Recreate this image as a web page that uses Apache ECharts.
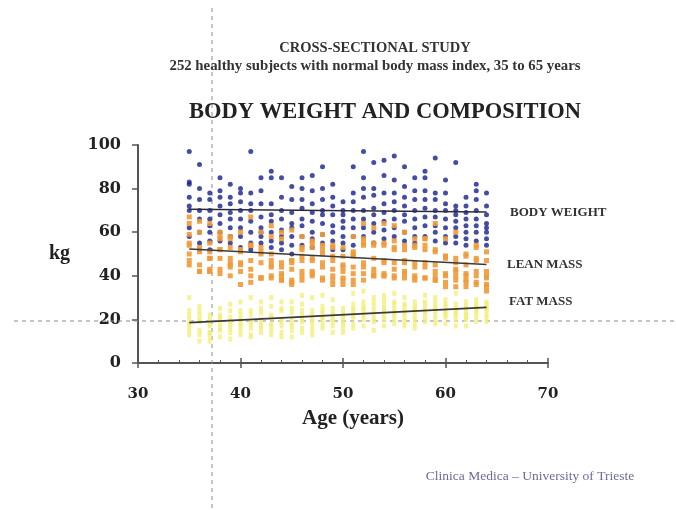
<!DOCTYPE html>
<html>
<head>
<meta charset="utf-8">
<script src="https://cdn.jsdelivr.net/npm/echarts@6/dist/echarts.min.js"></script>
<style>html,body{margin:0;padding:0;background:#fff}#c{width:676px;height:510px}</style>
</head>
<body>
<div id="c"></div>
<script>
// ages of the study columns
var ages = [35,36,37,38,39,40,41,42,43,44,45,46,47,48,49,50,51,52,53,54,55,56,57,58,59,60,61,62,63,64];
// body weight (kg) per age column
var bodyWeight = [
 [97,83,82,76,72,70,62,58],[91,80,75,70,66,60,55,52],[78,75,70,66,63,60,56,52],[85,79,76,72,68,64,60,56],
 [82,76,73,69,66,62,58,55],[80,78,74,70,66,62,58,53],[97,78,73,70,65,60,55,52],[85,79,73,67,62,60,58,55],
 [88,85,73,68,65,60,56,53],[85,76,70,66,61,58,55,52],[81,75,69,64,62,58,54,50],[85,80,75,71,66,63,58,54],
 [86,79,73,69,65,60,57,53],[90,80,75,70,68,64,59,55],[82,76,72,68,63,60,56,52],[74,70,68,65,62,58,55,52],
 [90,78,74,70,66,62,58,54],[97,85,80,76,70,66,62,58],[92,80,77,71,68,64,60,55],[93,86,78,73,69,65,61,57],
 [95,84,78,74,70,66,62,58],[90,81,76,72,68,65,60,56],[85,79,75,70,66,62,58,55],[88,85,79,75,71,67,63,58],
 [94,78,75,70,67,63,60,56],[84,78,73,70,66,62,58,55],[92,72,70,68,65,62,58,55],[76,72,69,66,63,60,57,54],
 [82,79,75,70,66,63,60,56],[78,72,68,64,62,60,57,54]
];
// lean mass (kg) per age column
var leanMass = [
 [67,59,64,54,55,50,47,45],[65,60,53,51,42,45,42,42],[64,55,48,48,51,43,42,42],[60,57,58,52,52,43,48,41],
 [58,57,46,53,45,48,40,44],[52,60,52,46,51,42,45,36],[67,54,54,54,43,47,37,40],[60,51,53,50,39,46,39,39],
 [58,63,47,50,44,45,39,40],[60,57,46,38,44,38,41,40],[61,47,46,47,37,43,36,38],[58,49,53,52,42,47,38,40],
 [56,55,53,47,48,41,42,40],[59,54,52,50,44,46,38,39],[53,54,47,49,40,43,36,38],[53,45,49,42,44,36,39,38],
 [58,51,50,49,41,44,36,38],[64,57,55,54,44,46,38,41],[62,54,55,43,48,40,41,40],[64,55,54,46,47,40,41,40],
 [63,56,53,52,43,46,39,40],[60,54,52,46,47,42,41,39],[57,54,53,44,46,38,40,39],[57,57,54,52,44,46,39,39],
 [64,52,51,42,45,38,40,38],[57,49,49,48,40,41,35,37],[60,48,43,46,40,42,35,38],[50,49,41,45,38,40,35,37],
 [53,54,48,47,40,42,36,37],[51,47,40,42,36,39,33,35]
];
// fat mass (kg) per age column
var fatMass = [
 [30,24,18,22,17,20,15,13],[26,20,22,19,24,15,13,10],[14,20,22,18,12,17,14,10],[25,22,18,20,16,21,12,15],
 [24,19,27,16,21,14,18,11],[28,18,22,24,15,20,13,17],[30,24,19,16,22,13,18,12],[25,28,20,17,23,14,19,16],
 [30,22,26,18,21,15,17,13],[25,19,24,28,17,20,14,12],[20,28,23,17,25,15,18,12],[27,31,22,19,24,16,20,14],
 [30,24,20,22,17,19,15,13],[31,26,23,20,24,18,21,16],[29,22,25,19,23,17,20,14],[21,25,19,23,18,22,16,14],
 [32,27,24,21,25,18,22,16],[33,28,25,22,26,20,24,17],[30,26,22,28,20,24,19,15],[29,31,24,27,22,25,20,17],
 [32,28,25,22,27,20,23,18],[30,27,24,26,21,23,19,17],[28,25,22,26,20,24,18,16],[31,28,25,23,27,21,24,19],
 [30,26,24,28,22,25,20,18],[27,29,24,22,26,21,23,18],[32,24,27,22,25,20,23,17],[26,23,28,21,25,20,22,17],
 [29,25,27,23,26,21,24,19],[27,25,28,22,26,21,24,19]
];
// regression lines [age, kg]
var trendWeight = [[35,70.5],[64,69.3]];
var trendLean = [[35,52.3],[64,45.2]];
var trendFat = [[35,18.5],[64,25.5]];
var xTicks = [30,40,50,60,70];
var yTicks = [0,20,40,60,80,100];

function pts(arr){
  var out = [];
  for (var i=0;i<ages.length;i++) for (var j=0;j<arr[i].length;j++) out.push([ages[i], arr[i][j]]);
  return out;
}

var serif = '"Liberation Serif","Times New Roman",serif';
var numFont = '"DejaVu Serif",serif';
var chart = echarts.init(document.getElementById('c'), null, {renderer:'canvas'});
chart.setOption({
  animation:false,
  backgroundColor:'#fff',
  grid:{left:138, right:128, top:145, bottom:147, containLabel:false},
  title:[
    {text:'CROSS-SECTIONAL STUDY', left:370, top:36, textAlign:'center',
     textStyle:{fontFamily:serif, fontSize:14.5, fontWeight:'bold', color:'#333'}},
    {text:'252 healthy subjects with normal body mass index, 35 to 65 years', left:370, top:54, textAlign:'center',
     textStyle:{fontFamily:serif, fontSize:14.8, fontWeight:'bold', color:'#333'}},
    {text:'BODY WEIGHT AND COMPOSITION', left:380, top:96, textAlign:'center',
     textStyle:{fontFamily:serif, fontSize:22.5, fontWeight:'bold', color:'#222'}},
    {text:'Clinica Medica \u2013 University of Trieste', left:525, top:464, textAlign:'center',
     textStyle:{fontFamily:serif, fontSize:13.5, fontWeight:'normal', color:'#6b6b98'}}
  ],
  xAxis:[{
    type:'value', min:30, max:70, interval:10,
    axisLine:{lineStyle:{color:'#555', width:2}},
    axisTick:{inside:true, length:5, lineStyle:{color:'#555', width:1.5}},
    minorTick:{show:true, splitNumber:5, length:3, lineStyle:{color:'#555'}},
    axisLabel:{margin:24, fontFamily:numFont, fontSize:15, fontWeight:'bold', color:'#222',
      formatter:function(v){return xTicks.indexOf(v)>=0? String(v):'';}},
    splitLine:{show:false}
  },{
    type:'value', min:30, max:70, interval:10, position:'bottom',
    axisLine:{show:false}, axisTick:{inside:false, length:5, lineStyle:{color:'#555', width:1.5}},
    axisLabel:{show:false}, splitLine:{show:false}
  }],
  yAxis:{
    type:'value', min:0, max:100, interval:20,
    name:'kg', nameLocation:'middle', nameGap:68, nameRotate:0,
    nameTextStyle:{fontFamily:serif, fontSize:20, fontWeight:'bold', color:'#222'},
    axisLine:{show:true, lineStyle:{color:'#555', width:2}},
    axisTick:{show:true, inside:false, length:6, lineStyle:{color:'#555', width:1.5}},
    axisLabel:{margin:17, fontFamily:numFont, fontSize:16, fontWeight:'bold', color:'#222',
      formatter:function(v){return yTicks.indexOf(v)>=0? String(v):'';}},
    splitLine:{show:false}
  },
  series:[
    {type:'scatter', name:'Fat mass', data:pts(fatMass), symbol:'rect', symbolSize:[4,5],
     itemStyle:{color:'#f2ee74', opacity:0.75}, z:2},
    {type:'scatter', name:'Body weight', data:pts(bodyWeight), symbol:'circle', symbolSize:5,
     itemStyle:{color:'#17218a'}, z:3},
    {type:'scatter', name:'Lean mass', data:pts(leanMass), symbol:'rect', symbolSize:[5,5],
     itemStyle:{color:'#ef9a38', opacity:0.9}, z:4},
    {type:'line', data:trendWeight, symbol:'none', lineStyle:{color:'#2a2a3a', width:1.6}, z:6},
    {type:'line', data:trendLean, symbol:'none', lineStyle:{color:'#3a3a3a', width:1.6}, z:6},
    {type:'line', data:trendFat, symbol:'none', lineStyle:{color:'#3a3a3a', width:1.6}, z:6}
  ],
  graphic:[
    {type:'line', shape:{x1:212, y1:8, x2:212, y2:508}, style:{stroke:'#8a8a8a', lineWidth:1, lineDash:[4,4]}, z:1},
    {type:'line', shape:{x1:14, y1:321, x2:676, y2:321}, style:{stroke:'#8a8a8a', lineWidth:1, lineDash:[4,4]}, z:1},
    {type:'text', left:510, top:206, style:{text:'BODY WEIGHT', font:'bold 13px '+serif, fill:'#333'}},
    {type:'text', left:507, top:258, style:{text:'LEAN MASS', font:'bold 13px '+serif, fill:'#333'}},
    {type:'text', left:509, top:295, style:{text:'FAT MASS', font:'bold 13px '+serif, fill:'#333'}},
    {type:'text', left:302, top:408, style:{text:'Age (years)', font:'bold 21px '+serif, fill:'#222'}}
  ]
});
</script>
</body>
</html>
